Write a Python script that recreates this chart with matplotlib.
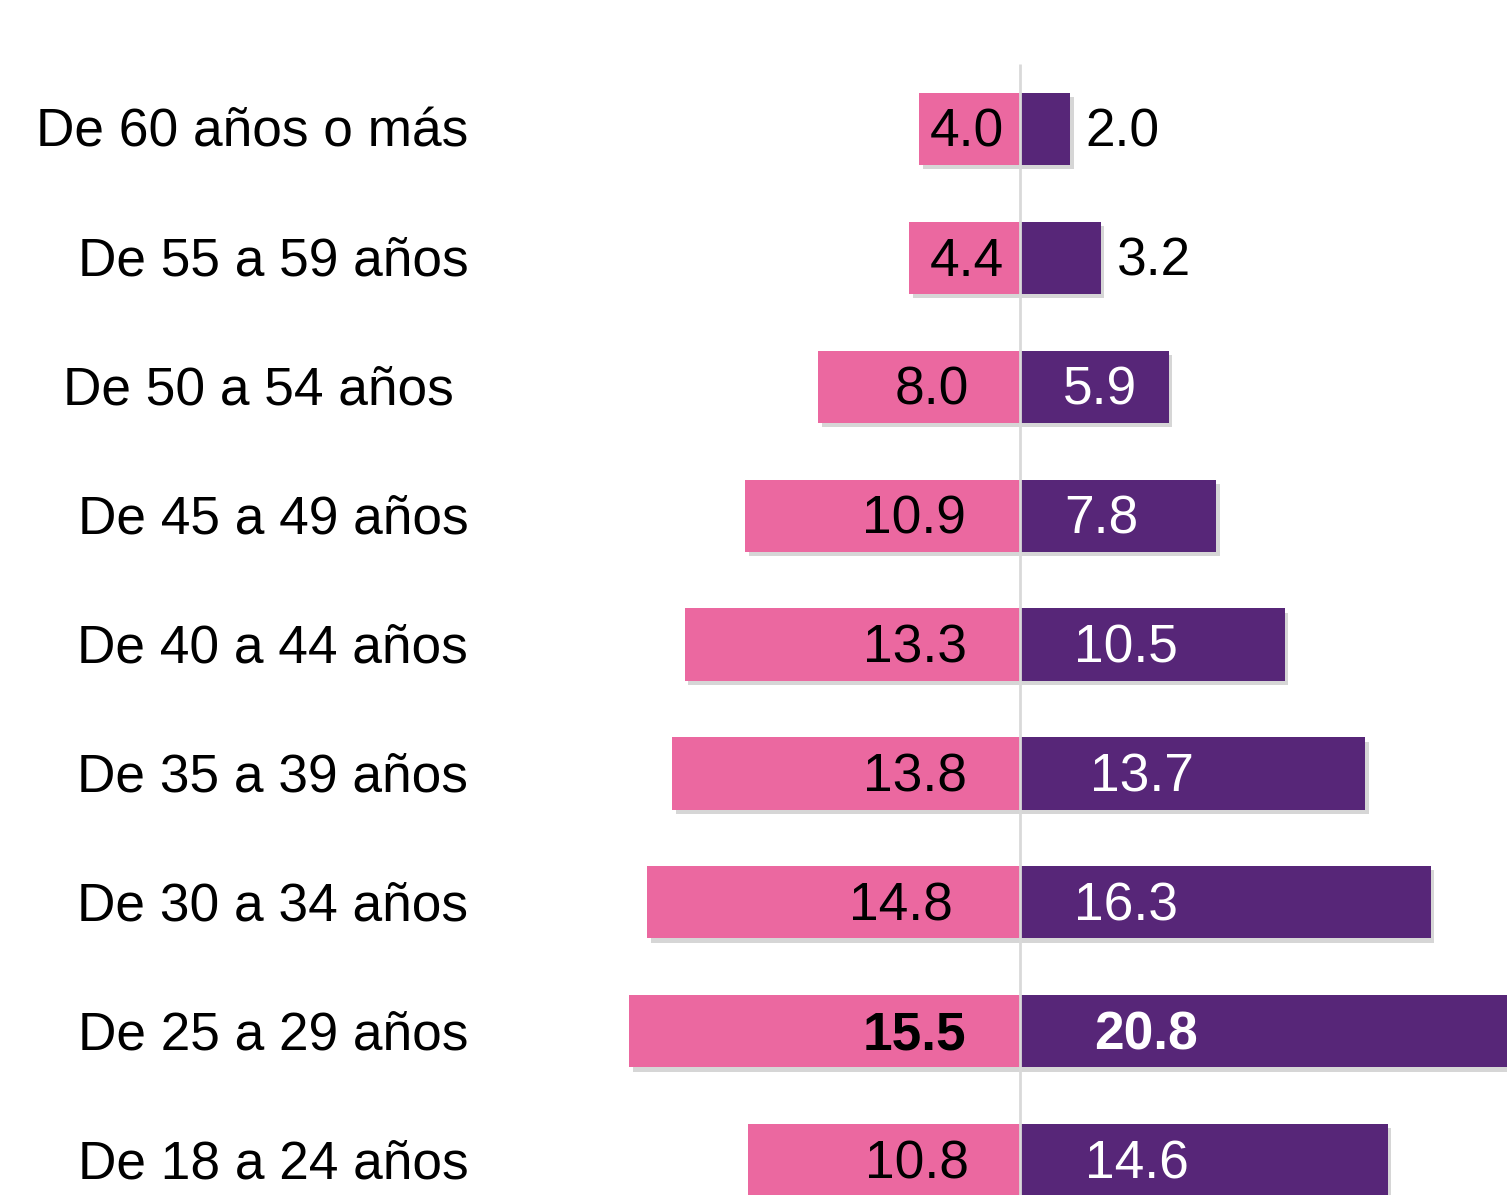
import matplotlib
matplotlib.use('Agg')
import matplotlib.pyplot as plt
import matplotlib.patheffects as pe
from matplotlib import font_manager

categories = ['De 60 años o más', 'De 55 a 59 años', 'De 50 a 54 años ', 'De 45 a 49 años',
              'De 40 a 44 años', 'De 35 a 39 años', 'De 30 a 34 años', 'De 25 a 29 años',
              'De 18 a 24 años']
mujeres = [4.0, 4.4, 8.0, 10.9, 13.3, 13.8, 14.8, 15.5, 10.8]
hombres = [2.0, 3.2, 5.9, 7.8, 10.5, 13.7, 16.3, 20.8, 14.6]

# label placement / style per row (not data)
pink_label_x = [-0.63, -0.63, -2.02, -2.14, -2.10, -2.10, -2.66, -2.14, -2.02]
purple_label_x = [2.58, 3.85, 1.71, 1.75, 2.14, 2.78, 2.14, 2.94, 2.58]
narrow_rows = [False, False, False, False, True, True, True, True, True]
bold_rows = [False, False, False, False, False, False, False, True, False]

pink = '#EB68A0'
purple = '#572678'

names = {f.name for f in font_manager.fontManager.ttflist}
regular = 'Liberation Sans'
narrow = 'Liberation Sans Narrow' if 'Liberation Sans Narrow' in names else regular
plt.rcParams['font.family'] = [regular, 'DejaVu Sans']

fig = plt.figure(figsize=(15.07, 11.95), dpi=100)
ax = fig.add_axes([0, 0, 1, 1])
ax.set_xlim(-40.48, 19.33)
ax.set_ylim(8.27, -1.0)
ax.axis('off')

shadow = [pe.SimplePatchShadow(offset=(2.5, -3), shadow_rgbFace='#8c8c8c', alpha=0.35), pe.Normal()]
ypos = list(range(len(categories)))
bars_m = ax.barh(ypos, [-v for v in mujeres], height=0.56, color=pink, zorder=2)
bars_h = ax.barh(ypos, hombres, height=0.56, color=purple, zorder=2)
for b in list(bars_m) + list(bars_h):
    b.set_path_effects(shadow)

ax.plot([0, 0], [-0.504, 8.27], color='#d9d9d9', lw=2, zorder=3, solid_capstyle='butt')

fs = 38.3
dy = 0.03  # small nudge so digits sit on the bar centre
for i, cat in enumerate(categories):
    ax.text(-21.9, i + dy, cat, ha='right', va='center', fontsize=fs, color='black')
    fam = narrow if narrow_rows[i] else regular
    wt = 'bold' if bold_rows[i] else 'normal'
    ax.text(pink_label_x[i], i + dy, f'{mujeres[i]:.1f}', ha='right', va='center', fontsize=fs,
            color='black', family=fam, weight=wt, zorder=4)
    inside = hombres[i] > 5
    ax.text(purple_label_x[i], i + dy, f'{hombres[i]:.1f}', ha='left', va='center', fontsize=fs,
            color='white' if inside else 'black', family=fam, weight=wt, zorder=4)

fig.savefig('out.png', dpi=100)
